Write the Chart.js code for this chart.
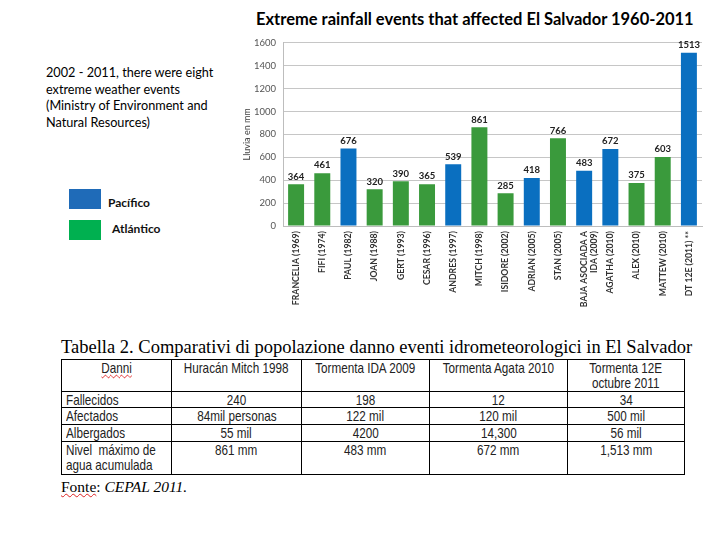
<!DOCTYPE html>
<html>
<head>
<meta charset="utf-8">
<script src="https://cdn.jsdelivr.net/npm/chart.js@4.4.1/dist/chart.umd.min.js"></script>
<style>
    html, body { margin: 0; padding: 0; background: #fff; }
    body { width: 720px; height: 540px; position: relative; overflow: hidden; }
    .title { position: absolute; left: 256px; top: 9px; font: bold 16.5px Lato, sans-serif; color: #000; white-space: nowrap; }
    .note { position: absolute; left: 46px; top: 64px; font: 12.7px Lato, sans-serif; line-height: 16.5px; color: #000; white-space: nowrap; }
    .legend-box { position: absolute; left: 69px; width: 32px; height: 20px; }
    .legend-text { position: absolute; font: bold 12px Lato, sans-serif; color: #111; }
    #chartWrap { position: absolute; left: 230px; top: 30px; width: 480px; height: 280px; }
    .tab-title { position: absolute; left: 61px; top: 337px; font: 18.5px "Liberation Serif", serif; color: #000; white-space: nowrap; }
    table { position: absolute; left: 61px; top: 359px; border-collapse: collapse; table-layout: fixed; width: 623px;
            font: 15px "Liberation Sans", sans-serif; color: #222; }
    td { border: 1px solid #000; padding: 0; vertical-align: top; text-align: center; line-height: 15px; white-space: nowrap; overflow: visible; }
    td.first { text-align: left; padding-left: 4px; }
    .sx { display: inline-block; transform: scaleX(0.78); transform-origin: center top; margin: 0 -60px; }
    td.first .sx { transform-origin: left top; margin: 0; }
    .wavy { text-decoration: underline wavy #d22; text-decoration-thickness: 1px; }
    .source { position: absolute; left: 61px; top: 478px; font: 15.5px "Liberation Serif", serif; color: #000; white-space: nowrap; }
</style>
</head>
<body>
<div class="title">Extreme rainfall events that affected El Salvador 1960-2011</div>
<div class="note">2002 - 2011, there were eight<br>extreme weather events<br>(Ministry of Environment and<br>Natural Resources)</div>

<div class="legend-box" style="top:189px;background:#1f6bb8;"></div>
<div class="legend-text" style="left:108px;top:195px;">Pacífico</div>
<div class="legend-box" style="top:220px;background:#00b050;"></div>
<div class="legend-text" style="left:112px;top:221px;">Atlántico</div>

<div id="chartWrap"><canvas id="rainChart" width="480" height="280"></canvas></div>

<div class="tab-title">Tabella 2. Comparativi di popolazione danno eventi idrometeorologici in El Salvador</div>
<table id="damageTable"></table>
<div class="source"><span class="wavy">Fonte</span>: <i>CEPAL 2011.</i></div>

<script>
// Rainfall per event (mm)
const eventLabels = [
    'FRANCELIA (1969)', 'FIFI (1974)', 'PAUL (1982)', 'JOAN (1988)', 'GERT (1993)',
    'CESAR (1996)', 'ANDRES (1997)', 'MITCH (1998)', 'ISIDORE (2002)', 'ADRIAN (2005)',
    'STAN (2005)', ['BAJA ASOCIADA A', 'IDA (2009)'], 'AGATHA (2010)', 'ALEX (2010)',
    'MATTEW (2010)', 'DT 12E (2011) **'
];
const rainfall = [364, 461, 676, 320, 390, 365, 539, 861, 285, 418, 766, 483, 672, 375, 603, 1513];
// P = Pacífico, A = Atlántico
const basin = ['A', 'A', 'P', 'A', 'A', 'A', 'P', 'A', 'A', 'P', 'A', 'P', 'P', 'A', 'A', 'P'];

// Table 2 contents
const tableHeader = ['Danni', 'Huracán Mitch 1998', 'Tormenta IDA 2009', 'Tormenta Agata 2010', ['Tormenta 12E', 'octubre 2011']];
const tableRowNames = ['Fallecidos', 'Afectados', 'Albergados', ['Nivel&nbsp; máximo de', 'agua acumulada']];
const tableValues = [
    ['240', '198', '12', '34'],
    ['84mil personas', '122 mil', '120 mil', '500 mil'],
    ['55 mil', '4200', '14,300', '56 mil'],
    ['861 mm', '483 mm', '672 mm', '1,513 mm']
];

const colWidths = [110, 130, 128, 138, 117];
const rowHeights = [32, 16, 17, 17, 33];

function cellText(v) {
    return '<span class="sx">' + (Array.isArray(v) ? v.join('<br>') : v) + '</span>';
}

function buildTable() {
    const table = document.getElementById('damageTable');
    let html = '<colgroup>' + colWidths.map(w => '<col style="width:' + w + 'px">').join('') + '</colgroup>';
    html += '<tr style="height:' + rowHeights[0] + 'px">';
    tableHeader.forEach((h, i) => {
        const txt = i === 0 ? '<span class="sx"><span class="wavy">' + h + '</span></span>' : cellText(h);
        html += '<td>' + txt + '</td>';
    });
    html += '</tr>';
    tableRowNames.forEach((name, r) => {
        html += '<tr style="height:' + rowHeights[r + 1] + 'px"><td class="first">' + cellText(name) + '</td>';
        tableValues[r].forEach(v => { html += '<td>' + cellText(v) + '</td>'; });
        html += '</tr>';
    });
    table.innerHTML = html;
}
buildTable();

// Value labels above bars
const valueLabels = {
    id: 'valueLabels',
    afterDatasetsDraw(chart) {
        const ctx = chart.ctx;
        const meta = chart.getDatasetMeta(0);
        ctx.save();
        ctx.font = 'bold 9.5px Lato, sans-serif';
        ctx.fillStyle = '#222';
        ctx.textAlign = 'center';
        ctx.textBaseline = 'bottom';
        meta.data.forEach((bar, i) => {
            ctx.fillText(rainfall[i], bar.x, bar.y - 3);
        });
        ctx.restore();
    }
};

new Chart(document.getElementById('rainChart'), {
    type: 'bar',
    data: {
        labels: eventLabels,
        datasets: [{
            data: rainfall,
            backgroundColor: basin.map(b => b === 'P' ? '#0a6fc0' : '#3a9a3c'),
            borderWidth: 0,
            barPercentage: 0.61,
            categoryPercentage: 1
        }]
    },
    options: {
        responsive: false,
        animation: false,
        devicePixelRatio: 1,
        layout: { padding: { top: 12, right: 8, left: 0, bottom: 0 } },
        plugins: {
            legend: { display: false },
            tooltip: { enabled: false }
        },
        scales: {
            x: {
                grid: { display: false, drawTicks: false },
                border: { color: '#bdbdbd' },
                ticks: {
                    autoSkip: false,
                    minRotation: 90,
                    maxRotation: 90,
                    padding: 5,
                    color: '#333',
                    font: { family: 'Lato, sans-serif', size: 8.7, weight: 'bold' }
                },
                afterFit: scale => { scale.height = 84; }
            },
            y: {
                min: 0,
                max: 1600,
                ticks: {
                    stepSize: 200,
                    padding: 7,
                    color: '#555',
                    font: { family: 'Lato, sans-serif', size: 9.5 },
                    callback: value => String(value)
                },
                grid: { color: '#c6c6c6', drawTicks: false },
                border: { color: '#bdbdbd' },
                title: {
                    display: true,
                    text: 'Lluvia en mm',
                    color: '#444',
                    font: { family: 'Lato, sans-serif', size: 9 },
                    padding: { top: 12, bottom: 0 }
                },
                afterFit: scale => { scale.width = 53; }
            }
        }
    },
    plugins: [valueLabels]
});
</script>
</body>
</html>
